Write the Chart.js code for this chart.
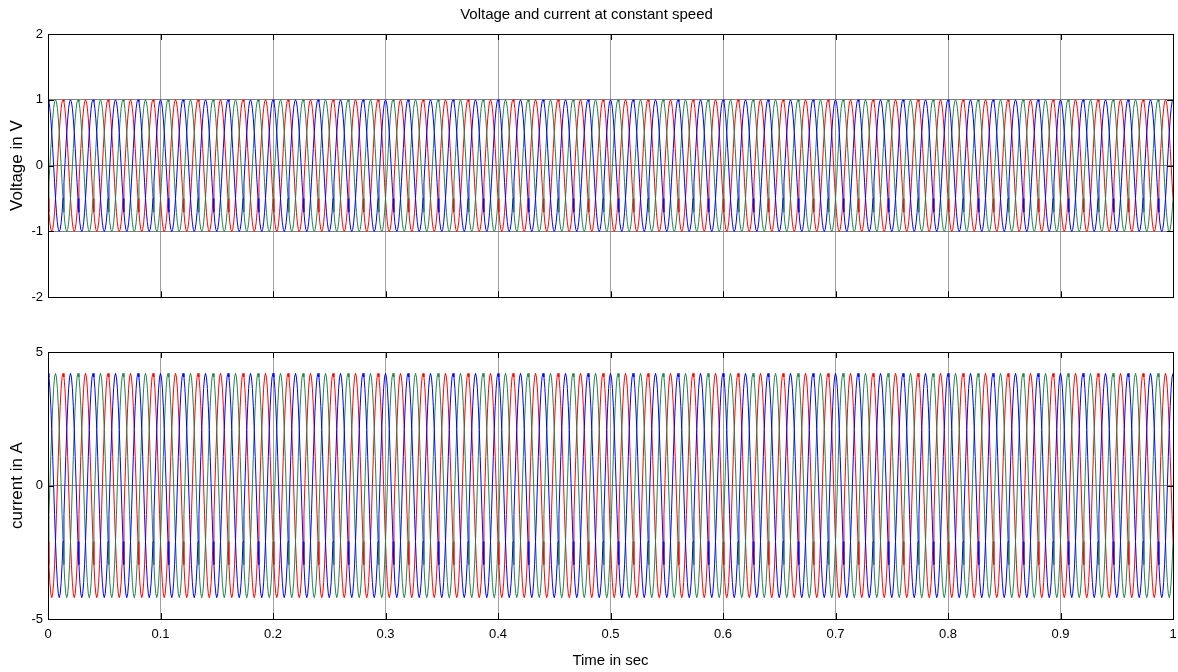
<!DOCTYPE html>
<html>
<head>
<meta charset="utf-8">
<script src="https://cdn.jsdelivr.net/npm/chart.js@4/dist/chart.umd.min.js"></script>
<style>
  body { margin: 0; background: #fff; }
  #wrap { position: relative; width: 1178px; height: 672px; }
  .box { position: absolute; left: 0; width: 1178px; }
</style>
</head>
<body>
<div id="wrap">
  <div class="box" style="top:0;height:310px"><canvas id="volt"></canvas></div>
  <div class="box" style="top:310px;height:362px"><canvas id="amp"></canvas></div>
</div>
<script>
const cycles = 50;
const period = 0.02;

const voltA = [1, 0.97, 0.87, 0.71, 0.5, 0.26, 0, -0.26, -0.5, -0.71, -0.87, -0.97,
               -1, -0.97, -0.87, -0.71, -0.5, -0.26, 0, 0.26, 0.5, 0.71, 0.87, 0.97];
const voltB = [-0.5, -0.26, 0, 0.26, 0.5, 0.71, 0.87, 0.97, 1, 0.97, 0.87, 0.71,
               0.5, 0.26, 0, -0.26, -0.5, -0.71, -0.87, -0.97, -1, -0.97, -0.87, -0.71];
const voltC = [-0.5, -0.71, -0.87, -0.97, -1, -0.97, -0.87, -0.71, -0.5, -0.26, 0, 0.26,
               0.5, 0.71, 0.87, 0.97, 1, 0.97, 0.87, 0.71, 0.5, 0.26, 0, -0.26];

const ampA = [4.2, 4.06, 3.64, 2.97, 2.1, 1.09, 0, -1.09, -2.1, -2.97, -3.64, -4.06,
              -4.2, -4.06, -3.64, -2.97, -2.1, -1.09, 0, 1.09, 2.1, 2.97, 3.64, 4.06];
const ampB = [-2.1, -1.09, 0, 1.09, 2.1, 2.97, 3.64, 4.06, 4.2, 4.06, 3.64, 2.97,
              2.1, 1.09, 0, -1.09, -2.1, -2.97, -3.64, -4.06, -4.2, -4.06, -3.64, -2.97];
const ampC = [-2.1, -2.97, -3.64, -4.06, -4.2, -4.06, -3.64, -2.97, -2.1, -1.09, 0, 1.09,
              2.1, 2.97, 3.64, 4.06, 4.2, 4.06, 3.64, 2.97, 2.1, 1.09, 0, -1.09];

const voltTicks = [-2, -1, 0, 1, 2];
const ampTicks = [-5, 0, 5];
const timeTicks = [0, 0.1, 0.2, 0.3, 0.4, 0.5, 0.6, 0.7, 0.8, 0.9, 1];

const blue = '#0000ff';
const green = '#24804c';
const red = '#ff0000';

function tile(cycle) {
    const n = cycle.length;
    const dt = period / n;
    const out = [];
    for (let k = 0; k < cycles; k++) {
        for (let j = 0; j < n; j++) {
            out.push({ x: (k * n + j) * dt, y: cycle[j] });
        }
    }
    out.push({ x: cycles * period, y: cycle[0] });
    return out;
}

function line(data, color) {
    return { data: tile(data), borderColor: color, borderWidth: 1, pointRadius: 0, tension: 0, fill: false };
}

// black box round the axes plus short inward ticks, like the scope
const frame = {
    id: 'frame',
    afterDraw(chart) {
        const { ctx, chartArea: a, scales } = chart;
        ctx.save();
        ctx.strokeStyle = '#000';
        ctx.lineWidth = 1;
        ctx.strokeRect(Math.round(a.left) + 0.5, Math.round(a.top) + 0.5,
                       Math.round(a.right - a.left), Math.round(a.bottom - a.top));
        ctx.beginPath();
        scales.x.ticks.forEach(t => {
            const px = Math.round(scales.x.getPixelForValue(t.value)) + 0.5;
            ctx.moveTo(px, a.top); ctx.lineTo(px, a.top + 6);
            ctx.moveTo(px, a.bottom); ctx.lineTo(px, a.bottom - 6);
        });
        scales.y.ticks.forEach(t => {
            const py = Math.round(scales.y.getPixelForValue(t.value)) + 0.5;
            ctx.moveTo(a.left, py); ctx.lineTo(a.left + 6, py);
            ctx.moveTo(a.right, py); ctx.lineTo(a.right - 6, py);
        });
        ctx.stroke();
        ctx.restore();
    }
};

const font = 'Liberation Sans, Arial, sans-serif';

function makeChart(id, opts) {
    new Chart(document.getElementById(id), {
        type: 'line',
        data: { datasets: opts.datasets },
        options: {
            responsive: true,
            maintainAspectRatio: false,
            animation: false,
            events: [],
            layout: { padding: { top: opts.padTop, right: 5, left: 0, bottom: 0 } },
            plugins: {
                legend: { display: false },
                tooltip: { enabled: false },
                title: opts.title
            },
            scales: {
                x: {
                    type: 'linear',
                    min: 0, max: 1,
                    afterBuildTicks: s => { s.ticks = timeTicks.map(v => ({ value: v })); },
                    afterFit: s => {
                        s.height = opts.xHeight;
                        s.paddingLeft = 0;
                        s.paddingRight = 0;
                    },
                    grid: { color: '#a0a0a0', drawTicks: false },
                    border: { color: '#000' },
                    ticks: {
                        display: opts.showX,
                        padding: 8,
                        color: '#000',
                        font: { family: font, size: 13 },
                        callback: v => String(Math.round(v * 10) / 10)
                    },
                    title: {
                        display: opts.showX,
                        text: 'Time in sec',
                        color: '#000',
                        font: { family: font, size: 15 },
                        padding: { top: 0, bottom: 2 }
                    }
                },
                y: {
                    min: opts.yMin, max: opts.yMax,
                    afterBuildTicks: s => { s.ticks = opts.yTicks.map(v => ({ value: v })); },
                    afterFit: s => { s.width = 48; },
                    grid: { color: '#808080', drawTicks: false },
                    border: { color: '#000' },
                    ticks: {
                        padding: 5,
                        color: '#000',
                        font: { family: font, size: 13 },
                        callback: v => String(v)
                    },
                    title: {
                        display: true,
                        text: opts.yTitle,
                        color: '#000',
                        font: { family: font, size: 17 },
                        padding: { top: 7 }
                    }
                }
            }
        },
        plugins: [frame]
    });
}

makeChart('volt', {
    datasets: [line(voltA, blue), line(voltB, green), line(voltC, red)],
    padTop: 0,
    title: {
        display: true,
        text: 'Voltage and current at constant speed',
        color: '#000',
        font: { family: font, size: 15, weight: 'normal' },
        padding: { top: 6, bottom: 10 }
    },
    xHeight: 9,
    showX: false,
    yMin: -2, yMax: 2,
    yTicks: voltTicks,
    yTitle: 'Voltage in V'
});

makeChart('amp', {
    datasets: [line(ampA, blue), line(ampB, green), line(ampC, red)],
    padTop: 42,
    title: { display: false },
    xHeight: 53,
    showX: true,
    yMin: -5, yMax: 5,
    yTicks: ampTicks,
    yTitle: 'current in A'
});
</script>
</body>
</html>
